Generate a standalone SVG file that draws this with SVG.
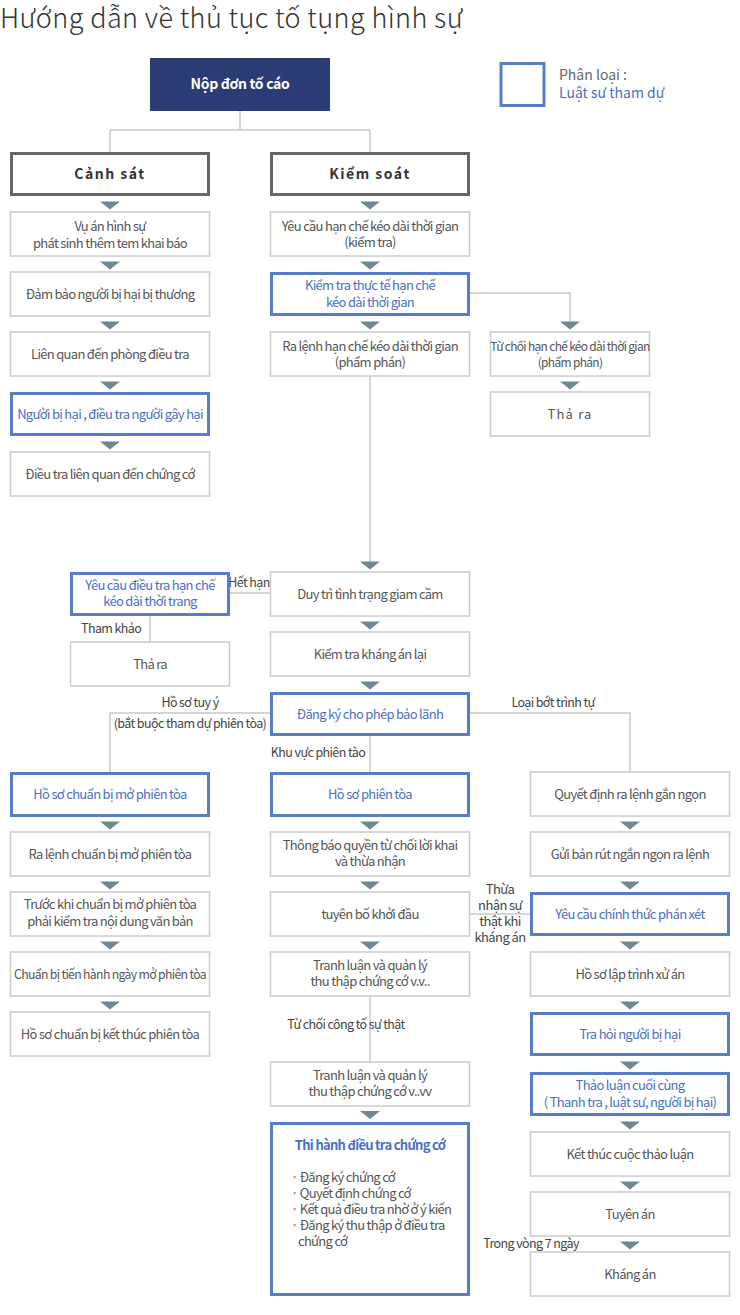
<svg xmlns="http://www.w3.org/2000/svg" xmlns:xlink="http://www.w3.org/1999/xlink" width="740" height="1315" viewBox="0 0 740 1315">
<defs>
<style>
text{font-family:"Noto Sans CJK KR","Noto Sans",sans-serif;}
.t{font-size:13px;fill:#555;text-anchor:middle;letter-spacing:-0.7px;}
.tb{font-size:13px;fill:#4a70c4;text-anchor:middle;letter-spacing:-0.7px;}
.lb{font-size:12.5px;fill:#444;letter-spacing:-0.6px;}
.g{fill:#fff;stroke:#cccccc;stroke-width:1.5;}
.b{fill:#fff;stroke:#5a7dc8;stroke-width:3;}
.k{fill:#fff;stroke:#666;stroke-width:3;}
.ln{fill:none;stroke:#c8c8c8;stroke-width:1.5;}
.tri{fill:#6e8893;}
</style>
<path id="tri" d="M-10,0 L10,0 L0,8 Z"/>
</defs>
<rect width="740" height="1315" fill="#fff"/>
<text x="0" y="28" style="font-size:27px;font-weight:300;fill:#333;letter-spacing:0.4px">Hướng dẫn về thủ tục tố tụng hình sự</text>

<g id="legend">
<rect x="501" y="63.5" width="43" height="42" fill="none" stroke="#5a7dc8" stroke-width="3"/>
<text x="559" y="80" style="font-size:14px;fill:#666">Phân loại :</text>
<text x="559" y="98" style="font-size:14px;fill:#4a70c4">Luật sư tham dự</text>
</g>

<g id="connectors">
<path class="ln" d="M240,111 V130 M110,130 H370 M110,130 V152 M370,130 V152"/>
<path class="ln" d="M469,293 H570 V321"/>
<path class="ln" d="M370,376 V562"/>
<path class="ln" d="M229,593 H270"/>
<path class="ln" d="M150,616 V642"/>
<path class="ln" d="M270,713 H110 V773"/>
<path class="ln" d="M469,713 H630 V773"/>
<path class="ln" d="M370,736 V772"/>
<path class="ln" d="M469,914 H530"/>
<path class="ln" d="M370,996 V1062"/>
<g class="tri">
<use xlink:href="#tri" x="110" y="201.5"/>
<use xlink:href="#tri" x="110" y="261.5"/>
<use xlink:href="#tri" x="110" y="321.5"/>
<use xlink:href="#tri" x="110" y="381.5"/>
<use xlink:href="#tri" x="110" y="441.5"/>
<use xlink:href="#tri" x="110" y="821.5"/>
<use xlink:href="#tri" x="110" y="881.5"/>
<use xlink:href="#tri" x="110" y="941.5"/>
<use xlink:href="#tri" x="110" y="1001.5"/>
<use xlink:href="#tri" x="370" y="201.5"/>
<use xlink:href="#tri" x="370" y="261.5"/>
<use xlink:href="#tri" x="370" y="321.5"/>
<use xlink:href="#tri" x="370" y="561.5"/>
<use xlink:href="#tri" x="370" y="621.5"/>
<use xlink:href="#tri" x="370" y="681.5"/>
<use xlink:href="#tri" x="370" y="821.5"/>
<use xlink:href="#tri" x="370" y="881.5"/>
<use xlink:href="#tri" x="370" y="941.5"/>
<use xlink:href="#tri" x="370" y="1111"/>
<use xlink:href="#tri" x="570" y="321.5"/>
<use xlink:href="#tri" x="570" y="381.5"/>
<use xlink:href="#tri" x="630" y="821.5"/>
<use xlink:href="#tri" x="630" y="881.5"/>
<use xlink:href="#tri" x="630" y="941.5"/>
<use xlink:href="#tri" x="630" y="1001.5"/>
<use xlink:href="#tri" x="630" y="1061.5"/>
<use xlink:href="#tri" x="630" y="1121.5"/>
<use xlink:href="#tri" x="630" y="1181.5"/>
<use xlink:href="#tri" x="630" y="1241.5"/>
</g>
</g>

<g id="labels">
<text class="lb" x="249" y="587" text-anchor="middle">Hết hạn</text>
<text class="lb" x="81" y="633">Tham khảo</text>
<text class="lb" x="190" y="707" text-anchor="middle">Hồ sơ tuy ý</text>
<text class="lb" x="190" y="728" text-anchor="middle">(bắt buộc tham dự phiên tòa)</text>
<text class="lb" x="553" y="707" text-anchor="middle">Loại bớt trình tự</text>
<text class="lb" x="318" y="757" text-anchor="middle">Khu vực phiên tào</text>
<text class="lb" x="500" y="894" text-anchor="middle" style="font-size:13px">Thừa</text>
<text class="lb" x="500" y="910" text-anchor="middle" style="font-size:13px">nhận sự</text>
<text class="lb" x="500" y="926" text-anchor="middle" style="font-size:13px">thật khi</text>
<text class="lb" x="500" y="942" text-anchor="middle" style="font-size:13px">kháng án</text>
<text class="lb" x="346" y="1029" text-anchor="middle">Từ chối công tố sự thật</text>
<text class="lb" x="531" y="1248" text-anchor="middle">Trong vòng 7 ngày</text>
</g>

<g id="n-nop"><rect x="150" y="58" width="180" height="53" fill="#2b3b73"/><text x="240" y="89" style="font-size:14px;font-weight:bold;fill:#fff;text-anchor:middle;letter-spacing:-0.3px">Nộp đơn tố cáo</text></g>
<g id="n-canhsat"><rect class="k" x="11.5" y="153.5" width="197" height="41"/><text x="110" y="179" style="font-size:14px;font-weight:bold;fill:#333;text-anchor:middle;letter-spacing:1.5px">Cảnh sát</text></g>
<g id="n-kiemsoat"><rect class="k" x="271.5" y="153.5" width="197" height="41"/><text x="370" y="179" style="font-size:14px;font-weight:bold;fill:#333;text-anchor:middle;letter-spacing:1.5px">Kiểm soát</text></g>

<g id="n-l1"><rect class="g" x="10.5" y="212" width="199" height="44"/><text class="t" x="110" y="230.5">Vụ án hình sự</text><text class="t" x="110" y="247.5">phát sinh thêm tem khai báo</text></g>
<g id="n-l2"><rect class="g" x="10.5" y="272" width="199" height="44"/><text class="t" x="110" y="299">Đảm bảo người bị hại bị thương</text></g>
<g id="n-l3"><rect class="g" x="10.5" y="332" width="199" height="44"/><text class="t" x="110" y="359">Liên quan đến phòng điều tra</text></g>
<g id="n-l4"><rect class="b" x="11.5" y="393.5" width="197" height="41"/><text class="tb" x="110" y="419">Người bị hại , điều tra người gây hại</text></g>
<g id="n-l5"><rect class="g" x="10.5" y="452" width="199" height="44"/><text class="t" x="110" y="479">Điều tra liên quan đến chứng cớ</text></g>

<g id="n-m1"><rect class="g" x="270.5" y="212" width="199" height="44"/><text class="t" x="370" y="231">Yêu cầu hạn chế kéo dài thời gian</text><text class="t" x="370" y="247">(kiểm tra)</text></g>
<g id="n-m2"><rect class="b" x="271.5" y="273.5" width="197" height="41"/><text class="tb" x="370" y="289.5">Kiểm tra thực tế hạn chế</text><text class="tb" x="370" y="306.5">kéo dài thời gian</text></g>
<g id="n-m3"><rect class="g" x="270.5" y="332" width="199" height="44"/><text class="t" x="370" y="351">Ra lệnh hạn chế kéo dài thời gian</text><text class="t" x="370" y="367">(phẩm phán)</text></g>
<g id="n-r1"><rect class="g" x="490.5" y="332" width="159" height="44"/><text class="t" x="570" y="351" style="font-size:12px">Từ chối hạn chế kéo dài thời gian</text><text class="t" x="570" y="367" style="font-size:12px">(phẩm phán)</text></g>
<g id="n-r2"><rect class="g" x="490.5" y="392" width="159" height="44"/><text class="t" x="570" y="419" style="letter-spacing:1.2px">Thả ra</text></g>

<g id="n-s1"><rect class="b" x="71.5" y="573.5" width="157" height="41"/><text class="tb" x="150" y="590">Yêu cầu điều tra hạn chế</text><text class="tb" x="150" y="606">kéo dài thời trang</text></g>
<g id="n-s2"><rect class="g" x="70.5" y="642" width="159" height="44"/><text class="t" x="150" y="669">Thả ra</text></g>
<g id="n-m4"><rect class="g" x="270.5" y="572" width="199" height="44"/><text class="t" x="370" y="599">Duy trì tình trạng giam cầm</text></g>
<g id="n-m5"><rect class="g" x="270.5" y="632" width="199" height="44"/><text class="t" x="370" y="659">Kiểm tra kháng án lại</text></g>
<g id="n-m6"><rect class="b" x="271.5" y="693.5" width="197" height="41"/><text class="tb" x="370" y="719">Đăng ký cho phép bảo lãnh</text></g>

<g id="n-a1"><rect class="b" x="11.5" y="773.5" width="197" height="42"/><text class="tb" x="110" y="799">Hồ sơ chuẩn bị mở phiên tòa</text></g>
<g id="n-a2"><rect class="g" x="10.5" y="832" width="199" height="44"/><text class="t" x="110" y="859">Ra lệnh chuẩn bị mở phiên tòa</text></g>
<g id="n-a3"><rect class="g" x="10.5" y="892" width="199" height="44"/><text class="t" x="110" y="908.5">Trước khi chuẩn bị mở phiên tòa</text><text class="t" x="110" y="925.5">phải kiểm tra nội dung văn bản</text></g>
<g id="n-a4"><rect class="g" x="10.5" y="952" width="199" height="44"/><text class="t" x="110" y="979" textLength="192" lengthAdjust="spacingAndGlyphs">Chuẩn bị tiến hành ngày mở phiên tòa</text></g>
<g id="n-a5"><rect class="g" x="10.5" y="1012" width="199" height="44"/><text class="t" x="110" y="1039">Hồ sơ chuẩn bị kết thúc phiên tòa</text></g>

<g id="n-b1"><rect class="b" x="271.5" y="773.5" width="197" height="42"/><text class="tb" x="370" y="799">Hồ sơ phiên tòa</text></g>
<g id="n-b2"><rect class="g" x="270.5" y="832" width="199" height="44"/><text class="t" x="370" y="850">Thông báo quyền từ chối lời khai</text><text class="t" x="370" y="866">và thừa nhận</text></g>
<g id="n-b3"><rect class="g" x="270.5" y="892" width="199" height="44"/><text class="t" x="370" y="919">tuyên bố khởi đầu</text></g>
<g id="n-b4"><rect class="g" x="270.5" y="952" width="199" height="44"/><text class="t" x="370" y="970">Tranh luận và quản lý</text><text class="t" x="370" y="986">thu thập chứng cớ v.v..</text></g>
<g id="n-b5"><rect class="g" x="270.5" y="1062" width="199" height="44"/><text class="t" x="370" y="1080">Tranh luận và quản lý</text><text class="t" x="370" y="1096">thu thập chứng cớ v..vv</text></g>
<g id="n-b6"><rect class="b" x="271.5" y="1123.5" width="197" height="171"/>
<text class="tb" x="370" y="1150" style="font-weight:bold">Thi hành điều tra chứng cớ</text>
<text class="t" x="291" y="1182" style="text-anchor:start">· Đăng ký chứng cớ</text>
<text class="t" x="291" y="1198" style="text-anchor:start">· Quyết định chứng cớ</text>
<text class="t" x="291" y="1214" style="text-anchor:start">· Kết quả điều tra nhờ ở ý kiến</text>
<text class="t" x="291" y="1230" style="text-anchor:start">· Đăng ký thu thập ở điều tra</text>
<text class="t" x="298" y="1246" style="text-anchor:start">chứng cớ</text>
</g>

<g id="n-c1"><rect class="g" x="530.5" y="772" width="199" height="44"/><text class="t" x="630" y="799">Quyết định ra lệnh gắn ngọn</text></g>
<g id="n-c2"><rect class="g" x="530.5" y="832" width="199" height="44"/><text class="t" x="630" y="859">Gửi bản rút ngắn ngọn ra lệnh</text></g>
<g id="n-c3"><rect class="b" x="531.5" y="893.5" width="197" height="41"/><text class="tb" x="630" y="919">Yêu cầu chính thức phán xét</text></g>
<g id="n-c4"><rect class="g" x="530.5" y="952" width="199" height="44"/><text class="t" x="630" y="979">Hồ sơ lập trình xử án</text></g>
<g id="n-c5"><rect class="b" x="531.5" y="1013.5" width="197" height="41"/><text class="tb" x="630" y="1039">Tra hỏi người bị hại</text></g>
<g id="n-c6"><rect class="b" x="531.5" y="1073.5" width="197" height="41"/><text class="tb" x="630" y="1090">Thảo luận cuối cùng</text><text class="tb" x="630" y="1107">( Thanh tra , luật sư, người bị hại)</text></g>
<g id="n-c7"><rect class="g" x="530.5" y="1132" width="199" height="44"/><text class="t" x="630" y="1159">Kết thúc cuộc thảo luận</text></g>
<g id="n-c8"><rect class="g" x="530.5" y="1192" width="199" height="44"/><text class="t" x="630" y="1219">Tuyên án</text></g>
<g id="n-c9"><rect class="g" x="530.5" y="1252" width="199" height="44"/><text class="t" x="630" y="1279">Kháng án</text></g>
</svg>
